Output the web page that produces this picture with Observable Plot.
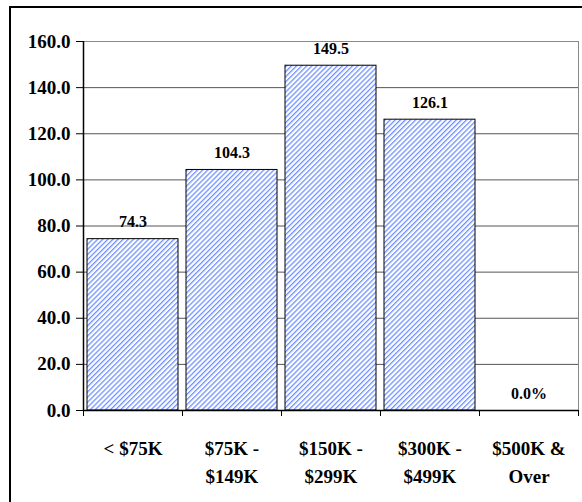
<!DOCTYPE html>
<html>
<head>
<meta charset="utf-8">
<script src="https://cdn.jsdelivr.net/npm/d3@7"></script>
<script src="https://cdn.jsdelivr.net/npm/@observablehq/plot@0.6"></script>
<style>
  html, body { margin: 0; padding: 0; background: #fff; overflow: hidden; }
  #wrap { position: relative; width: 582px; height: 502px; }
  #frame { position: absolute; left: 9px; top: 6px; width: 640px; height: 560px;
           border-left: 2px solid #000; border-top: 2px solid #000; pointer-events: none; }
  #wrap svg, #wrap svg text { font-family: "Liberation Serif", "Times New Roman", serif !important; font-weight: bold; }
</style>
</head>
<body>
<svg width="0" height="0" style="position:absolute">
  <defs>
    <pattern id="hatch" patternUnits="userSpaceOnUse" width="3.6" height="3.6" patternTransform="rotate(45)">
      <rect x="0" y="0" width="3.6" height="3.6" fill="#ffffff"></rect>
      <rect x="0" y="0" width="1.3" height="3.6" fill="#6f90ff"></rect>
    </pattern>
  </defs>
</svg>
<div id="wrap"><div id="frame"></div></div>
<script>
const categories = ["< $75K", "$75K -\n$149K", "$150K -\n$299K", "$300K -\n$499K", "$500K &\nOver"];
const values = [74.3, 104.3, 149.5, 126.1, 0.0];
const valueLabels = ["74.3", "104.3", "149.5", "126.1", "0.0%"];
const yTicks = [0, 20, 40, 60, 80, 100, 120, 140, 160];

const data = categories.map((c, i) => ({cat: c, value: values[i], label: valueLabels[i]}));
const last = categories[categories.length - 1];

const chart = Plot.plot({
  width: 582,
  height: 502,
  marginLeft: 83,
  marginRight: 4,
  marginTop: 41,
  marginBottom: 92,
  style: {fontFamily: "Liberation Serif, Times New Roman, serif", fontWeight: "bold", background: "transparent", overflow: "visible"},
  x: {domain: categories, padding: 0},
  y: {domain: [0, 160]},
  marks: [
    Plot.gridY(yTicks.filter(d => d > 0), {stroke: "#555", strokeOpacity: 1, strokeWidth: 1}),
    Plot.frame({stroke: "#888", strokeWidth: 1}),
    Plot.barY(data, {x: "cat", y: "value", fill: "url(#hatch)", stroke: "#000", strokeWidth: 1, insetLeft: 4, insetRight: 4}),
    Plot.text(data, {x: "cat", y: "value", text: "label", lineAnchor: "bottom", dy: -12, fontSize: 16, fontWeight: "bold", fill: "#000"}),
    Plot.axisY({ticks: yTicks, tickFormat: d3.format(".1f"), tickSize: 7, tickPadding: 6, fontSize: 19, fontWeight: "bold", color: "#000", label: null}),
    Plot.axisX({tickSize: 0, tickPadding: 25, fontSize: 19, fontWeight: "bold", lineHeight: 1.47, color: "#000", label: null}),
    Plot.axisX({ticks: categories, tickSize: 6, text: null, dx: -49.5, color: "#000", label: null}),
    Plot.axisX({ticks: [last], tickSize: 6, text: null, dx: 49.5, color: "#000", label: null}),
    Plot.ruleY([0], {stroke: "#000", strokeWidth: 1.5}),
    Plot.ruleX([categories[0]], {dx: -49.5, stroke: "#000", strokeWidth: 1.5})
  ]
});
document.getElementById("wrap").prepend(chart);
</script>
</body>
</html>
